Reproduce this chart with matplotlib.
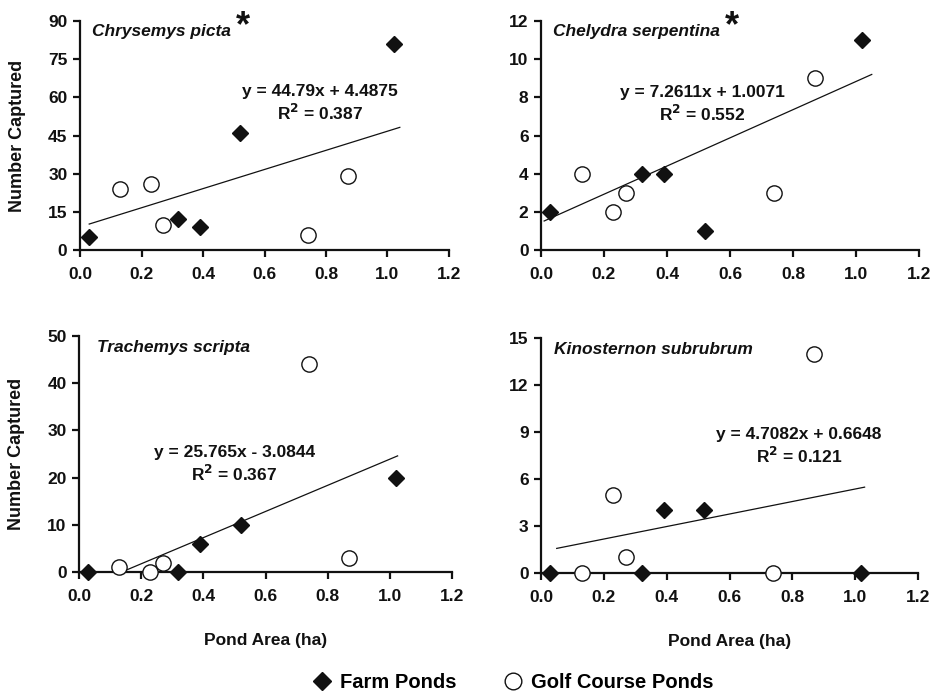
import numpy as np
import matplotlib
matplotlib.use('Agg')
import matplotlib.pyplot as plt
from matplotlib.lines import Line2D

plt.rcParams['font.family'] = ['Liberation Sans', 'DejaVu Sans']
plt.rcParams['font.weight'] = 'bold'

# pond areas (ha), same ponds in every panel
farm_area = [0.03, 0.32, 0.39, 0.52, 1.02]
golf_area = [0.13, 0.23, 0.27, 0.74, 0.87]

species = ['Chrysemys picta', 'Chelydra serpentina', 'Trachemys scripta', 'Kinosternon subrubrum']
starred = [True, True, False, False]

farm_counts = [
    [5, 12, 9, 46, 81],
    [2, 4, 4, 1, 11],
    [0, 0, 6, 10, 20],
    [0, 0, 4, 4, 0],
]
golf_counts = [
    [24, 26, 10, 6, 29],
    [4, 2, 3, 3, 9],
    [1, 0, 2, 44, 3],
    [0, 5, 1, 0, 14],
]

equations = ['y = 44.79x + 4.4875', 'y = 7.2611x + 1.0071',
             'y = 25.765x - 3.0844', 'y = 4.7082x + 0.6648']
r_squared = ['0.387', '0.552', '0.367', '0.121']

# trend line ends as drawn in the figure
trend_x = [[0.03, 1.04], [0.01, 1.05], [0.15, 1.025], [0.05, 1.03]]
trend_y = [[10.2, 48.2], [1.52, 9.2], [0.35, 24.6], [1.57, 5.48]]

y_max = [90, 12, 50, 15]
y_step = [15, 2, 10, 3]

fig = plt.figure(figsize=(9.34, 6.94), dpi=100)

W, H = 934, 694
boxes = [(80, 21, 449, 250), (541, 21, 919, 250),
         (79, 336, 452, 572), (541, 338, 918, 573)]
eq_pos = [(0.65, 0.69), (0.426, 0.686), (0.416, 0.505), (0.684, 0.59)]
title_x = [0.033, 0.032, 0.048, 0.035]

for i in range(4):
    l, t, r, b = boxes[i]
    ax = fig.add_axes([l / W, (H - b) / H, (r - l) / W, (b - t) / H])
    ax.plot(farm_area, farm_counts[i], linestyle='none', marker='D', ms=8.5,
            color='#111111', clip_on=False, zorder=3)
    ax.plot(golf_area, golf_counts[i], linestyle='none', marker='o', ms=11,
            mfc='white', mec='#111111', mew=1.0, clip_on=False, zorder=3)
    ax.plot(trend_x[i], trend_y[i], color='#111111', lw=0.9, zorder=2)

    ax.set_xlim(0, 1.2)
    ax.set_ylim(0, y_max[i])
    ax.set_xticks(np.arange(0, 1.21, 0.2))
    ax.set_xticklabels([f'{v:.1f}' for v in np.arange(0, 1.21, 0.2)])
    ax.set_yticks(np.arange(0, y_max[i] + 0.1, y_step[i]))
    for s in ['top', 'right']:
        ax.spines[s].set_visible(False)
    for s in ['left', 'bottom']:
        ax.spines[s].set_linewidth(1.6)
        ax.spines[s].set_color('#111111')
    ax.tick_params(axis='both', direction='out', width=1.6, length=5,
                   labelsize=12.5, colors='#111111')
    ax.tick_params(axis='x', pad=7)
    ax.tick_params(axis='y', pad=4)
    for lab in ax.get_xticklabels() + ax.get_yticklabels():
        lab.set_fontweight('bold')

    title = ax.text(title_x[i], 0.985, species[i], transform=ax.transAxes,
                    fontsize=12.5, fontstyle='italic', fontweight='bold',
                    ha='left', va='top', color='#111111')
    if starred[i]:
        fig.canvas.draw()
        bb = title.get_window_extent().transformed(ax.transAxes.inverted())
        ax.text(bb.x1 + 0.012, 1.05, '*', transform=ax.transAxes, fontsize=26,
                fontweight='bold', ha='left', va='top', color='#111111')

    ex, ey = eq_pos[i]
    ax.text(ex, ey, equations[i], transform=ax.transAxes, fontsize=12.5,
            fontweight='bold', ha='center', va='center', color='#111111')
    ax.text(ex, ey - 0.09, r'R$^{\mathbf{2}}$ = ' + r_squared[i], transform=ax.transAxes,
            fontsize=12.5, fontweight='bold', ha='center', va='center', color='#111111')

    if i % 2 == 0:
        ax.set_ylabel('Number Captured', fontsize=13, fontweight='bold',
                      color='#111111', labelpad=16)
    if i >= 2:
        ax.set_xlabel('Pond Area (ha)', fontsize=12.5, fontweight='bold',
                      color='#111111', labelpad=21)

handles = [
    Line2D([], [], linestyle='none', marker='D', ms=9, color='#111111'),
    Line2D([], [], linestyle='none', marker='o', ms=12, mfc='white',
           mec='#111111', mew=1.0),
]
fig.legend(handles, ['Farm Ponds', 'Golf Course Ponds'], loc='center',
           bbox_to_anchor=(0.548, 0.016), ncol=2, frameon=False,
           prop={'weight': 'bold', 'size': 14.5}, handletextpad=0.3,
           columnspacing=2.2, handlelength=1.2)

fig.savefig('out.png', dpi=100)
